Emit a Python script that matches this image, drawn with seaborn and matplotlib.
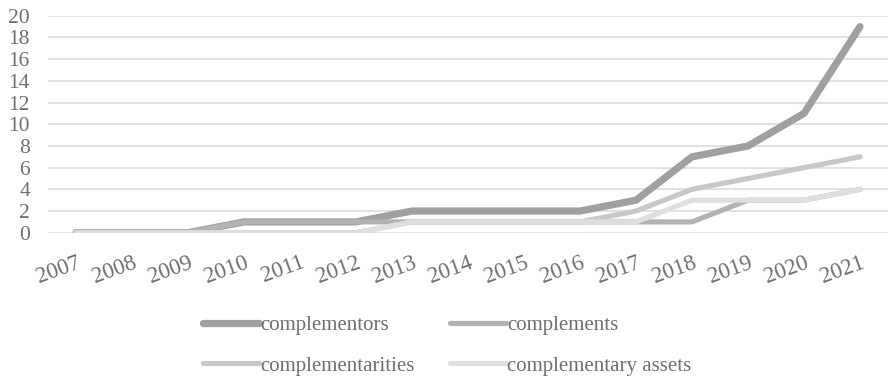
import matplotlib
matplotlib.use("Agg")
import matplotlib.pyplot as plt
import seaborn as sns
import pandas as pd

years = [str(y) for y in range(2007, 2022)]
complementors = [0, 0, 0, 1, 1, 1, 2, 2, 2, 2, 3, 7, 8, 11, 19]
complements = [0, 0, 0, 1, 1, 1, 1, 1, 1, 1, 1, 1, 3, 3, 4]
complementarities = [0, 0, 0, 0, 0, 0, 1, 1, 1, 1, 2, 4, 5, 6, 7]
complementary_assets = [0, 0, 0, 0, 0, 0, 1, 1, 1, 1, 1, 3, 3, 3, 4]

series_names = ["complementors", "complements", "complementarities", "complementary assets"]
series_values = [complementors, complements, complementarities, complementary_assets]
colors = ["#a0a19f", "#b2b2b2", "#c8c8c8", "#dededd"]
widths = [5.2, 3.7, 3.7, 3.7]

sns.set_theme(style="white")
plt.rcParams["font.family"] = ["Liberation Serif", "DejaVu Serif"]

df = pd.DataFrame({
    "year": years * len(series_names),
    "idx": list(range(len(years))) * len(series_names),
    "term": [n for n in series_names for _ in years],
    "count": [v for vals in series_values for v in vals],
})

fig = plt.figure(figsize=(8.88, 3.76), dpi=100)
ax = fig.add_axes([0.054, 0.381, 0.946, 0.577])

text_color = "#6e6e6e"
handles = {}
for name, col, lw in zip(series_names, colors, widths):
    sub = df[df["term"] == name]
    sns.lineplot(data=sub, x="idx", y="count", ax=ax, color=col, linewidth=lw,
                 solid_capstyle="round", solid_joinstyle="round", legend=False)
    handles[name] = ax.lines[-1]

ax.set_xlim(-0.5, len(years) - 0.5)
ax.set_ylim(0, 20)
ax.set_yticks(range(0, 21, 2))
ax.set_xticks(range(len(years)))
ax.set_xticklabels(years, rotation=20, ha="right", va="top", rotation_mode="anchor")
ax.tick_params(axis="both", length=0, colors=text_color)
ax.tick_params(axis="y", pad=13, labelsize=15.5)
ax.tick_params(axis="x", pad=14, labelsize=16.5)
ax.grid(axis="y", color="#d9d9d9", linewidth=1.1)
ax.set_axisbelow(True)
for s in ax.spines.values():
    s.set_visible(False)
ax.set_xlabel("")
ax.set_ylabel("")

# legend fills column-first, so order entries to read row by row
legend_order = ["complementors", "complementarities", "complements", "complementary assets"]
leg = fig.legend([handles[n] for n in legend_order], legend_order, loc="upper left",
                 bbox_to_anchor=(0.219, 0.183), ncol=2, frameon=False, fontsize=15,
                 handlelength=2.7, handletextpad=0.05, columnspacing=1.7,
                 labelspacing=1.0, borderaxespad=0)
for t in leg.get_texts():
    t.set_color(text_color)

fig.savefig("out.png", dpi=100)
